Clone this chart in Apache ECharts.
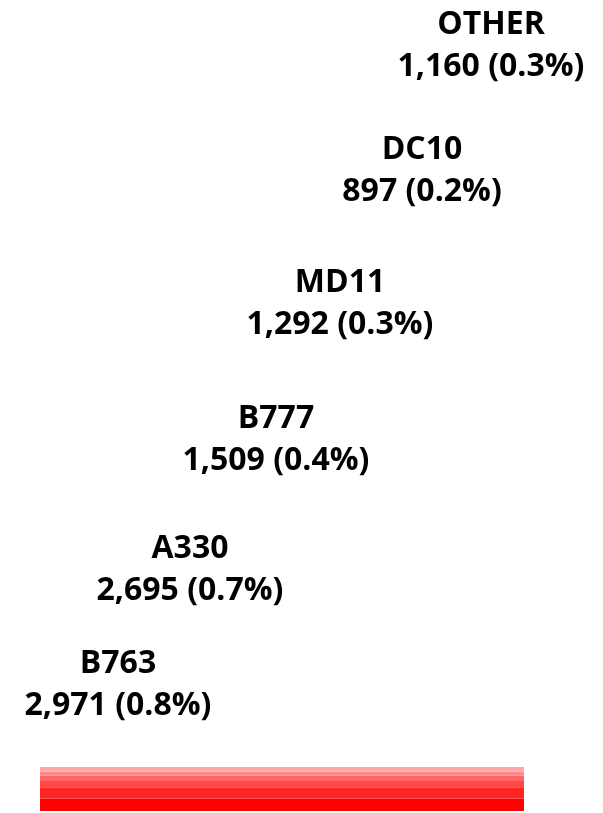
<!DOCTYPE html>
<html>
<head>
<meta charset="utf-8">
<script src="https://cdn.jsdelivr.net/npm/echarts@6/dist/echarts.min.js"></script>
<style>
  html, body { margin: 0; padding: 0; background: #fff; }
  #chart { width: 603px; height: 813px; }
</style>
</head>
<body>
<div id="chart"></div>
<script>
// stacked from the bottom up
const categories = ["B763", "A330", "B777", "MD11", "DC10", "OTHER"];
const counts = [2971, 2695, 1509, 1292, 897, 1160];
const shares = [0.8, 0.7, 0.4, 0.3, 0.2, 0.3];
const colors = ["#ff0000", "#ff2424", "#ff4848", "#ff6666", "#ff8888", "#ffa8a8"];
// label offsets from the centre of each segment
const labelOffsets = [
  [-164, -120],
  [-92, -223],
  [-6, -344],
  [58, -474],
  [140, -603],
  [209, -724],
];

const chart = echarts.init(document.getElementById("chart"));

const series = categories.map((name, i) => ({
  name,
  type: "bar",
  stack: "total",
  barWidth: "100%",
  itemStyle: { color: colors[i] },
  label: {
    show: true,
    position: "inside",
    offset: labelOffsets[i],
    color: "#000",
    textBorderWidth: 0,
    fontFamily: "Open Sans",
    fontWeight: "bold",
    fontSize: 32,
    lineHeight: 42,
    align: "center",
    formatter: () =>
      name + "\n" + counts[i].toLocaleString("en-US") + " (" + shares[i].toFixed(1) + "%)",
  },
  data: [counts[i]],
}));

chart.setOption({
  animation: false,
  backgroundColor: "#fff",
  grid: { left: 40, right: 79, top: 0, bottom: 2 },
  xAxis: { type: "category", data: ["All"], show: false },
  yAxis: { type: "value", min: 0, max: 194000, show: false },
  series,
});
</script>
</body>
</html>
